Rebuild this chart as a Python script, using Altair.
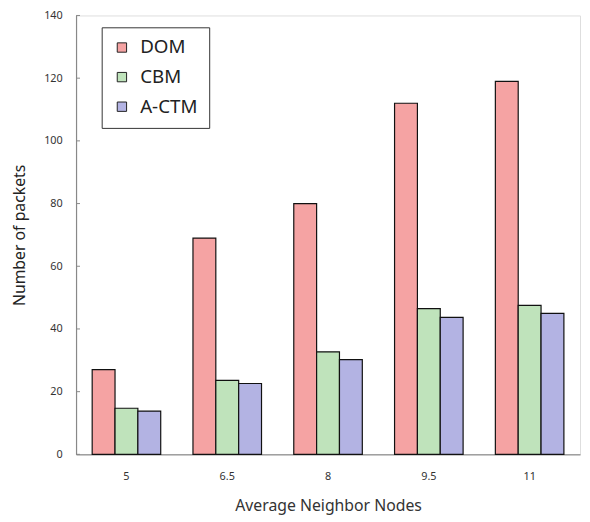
import altair as alt
import pandas as pd

nodes = ["5", "6.5", "8", "9.5", "11"]
series = ["DOM", "CBM", "A-CTM"]
dom = [27, 69, 80, 112, 119]
cbm = [14.7, 23.6, 32.7, 46.5, 47.5]
actm = [13.8, 22.6, 30.2, 43.7, 45]
yticks = [0, 20, 40, 60, 80, 100, 120, 140]

rows = []
for i, n in enumerate(nodes):
    rows.append({"node": n, "series": "DOM", "value": dom[i]})
    rows.append({"node": n, "series": "CBM", "value": cbm[i]})
    rows.append({"node": n, "series": "A-CTM", "value": actm[i]})
df = pd.DataFrame(rows)
tick_df = pd.DataFrame({"t": yticks})

FONT = "Noto Sans"
colors = ["#f5a3a3", "#bfe3bb", "#b3b3e3"]

yscale = alt.Scale(domain=[0, 140], nice=False)

bars = alt.Chart(df).mark_bar(stroke="#111111", strokeWidth=1.2).encode(
    x=alt.X("node:N", sort=nodes, scale=alt.Scale(paddingInner=0.32, paddingOuter=0.16),
            axis=alt.Axis(title="Average Neighbor Nodes", labelAngle=0, ticks=False,
                          labelFontSize=11, labelColor="#333333", labelPadding=16,
                          titleFontSize=16, titleColor="#333333", titleFontWeight="normal",
                          titlePadding=17, domainColor="#a0a0a0", domainWidth=1.5, labelFont=FONT,
                          titleFont=FONT)),
    xOffset=alt.XOffset("series:N", sort=series),
    y=alt.Y("value:Q", scale=yscale,
            axis=alt.Axis(title="Number of packets", values=yticks, ticks=False, grid=False,
                          labelFontSize=11, labelColor="#333333", labelPadding=14,
                          titleFontSize=16, titleColor="#222222", titleFontWeight="normal",
                          titlePadding=16, domainColor="#888888", domainWidth=1.2,
                          labelFont=FONT, titleFont=FONT)),
    fill=alt.Fill("series:N", sort=series,
                  scale=alt.Scale(domain=series, range=colors),
                  legend=alt.Legend(title=None, orient="none", legendX=26, legendY=12,
                                    symbolType="square", symbolSize=90, symbolStrokeColor="#222222",
                                    symbolStrokeWidth=1, labelFontSize=19, labelFont=FONT,
                                    labelColor="#222222", rowPadding=10, padding=11,
                                    labelOffset=9, strokeColor="#333333",
                                    fillColor="white")),
)

ticks = alt.Chart(tick_df).mark_rule(color="#888888", strokeWidth=1).encode(
    y=alt.Y("t:Q", scale=yscale),
    x=alt.value(0),
    x2=alt.value(4),
)

chart = alt.layer(bars, ticks).properties(
    width=511,
    height=445,
    autosize=alt.AutoSizeParams(type="none"),
    padding={"left": 69, "top": 4, "right": 2, "bottom": 64},
).configure_view(stroke="#444444", strokeWidth=1.2).configure(font=FONT)

chart.save("out.html", embed_options={"renderer": "svg", "actions": False})
